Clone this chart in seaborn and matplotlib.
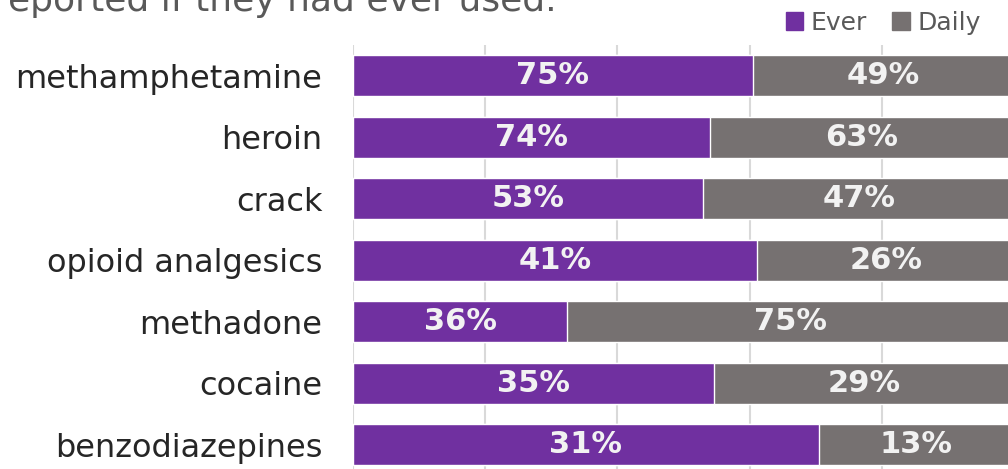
import matplotlib
matplotlib.use("Agg")
import matplotlib.pyplot as plt
import seaborn as sns
import numpy as np
import pandas as pd

# Substances and the share of respondents reporting ever / daily use (%)
substances = ["methamphetamine", "heroin", "crack", "opioid analgesics",
              "methadone", "cocaine", "benzodiazepines"]
ever_pct = [75, 74, 53, 41, 36, 35, 31]
daily_pct = [49, 63, 47, 26, 75, 29, 13]
series_names = ["Ever", "Daily"]

PURPLE = "#7030A0"
GRAY = "#767171"

sns.set_theme(style="white")
plt.rcParams["font.family"] = ["DejaVu Sans"]

ever = np.array(ever_pct, dtype=float)
daily = np.array(daily_pct, dtype=float)
total = ever + daily

df = pd.DataFrame({
    "substance": substances,
    "ever_share": ever / total,
    "full": total / total,
})

fig = plt.figure(figsize=(10.08, 4.69), dpi=100)
# 100% stacked axis; it runs slightly past the right and bottom edges of the canvas
ax = fig.add_axes([353 / 1008, (469 - 475.5) / 469, 661 / 1008, 430.5 / 469])

sns.barplot(data=df, x="full", y="substance", orient="h", color=GRAY,
            width=0.67, saturation=1, ax=ax, zorder=2)
sns.barplot(data=df, x="ever_share", y="substance", orient="h", color=PURPLE,
            width=0.67, saturation=1, ax=ax, zorder=3)

ax.set_xlim(0, 1)
ax.set_ylim(len(substances) - 0.5, -0.5)
ax.set_xticks(np.linspace(0, 1, 6))
ax.set_xticklabels([])
ax.xaxis.grid(True, color="#D9D9D9", linewidth=1.5, zorder=0)
ax.set_axisbelow(True)
ax.set_xlabel("")
ax.set_ylabel("")
for s in ax.spines.values():
    s.set_visible(False)
ax.tick_params(axis="y", length=0, pad=22, labelsize=23, labelcolor="#262626")
ax.tick_params(axis="x", length=0)

# Value labels centred in each segment
for i in range(len(substances)):
    share = ever[i] / total[i]
    ax.text(share / 2, i, f"{ever_pct[i]}%", ha="center", va="center",
            color="#F2F2F2", fontsize=22, fontweight="bold", zorder=5)
    ax.text(share + (1 - share) / 2, i, f"{daily_pct[i]}%", ha="center",
            va="center", color="#F2F2F2", fontsize=22, fontweight="bold", zorder=5)

# Legend
handles = [plt.Rectangle((0, 0), 1, 1, color=PURPLE),
           plt.Rectangle((0, 0), 1, 1, color=GRAY)]
fig.legend(handles, series_names, loc="upper right",
           bbox_to_anchor=(1003 / 1008, 1.025), ncol=2, frameon=False,
           fontsize=18, handlelength=0.7, handleheight=0.7,
           handletextpad=0.3, columnspacing=1.0, labelcolor="#595959")

# Caption line above the chart
fig.text(8 / 1008, 1 - 11 / 469, "eported if they had ever used.",
         ha="left", va="baseline", fontsize=26, color="#595959")

fig.savefig("out.png", dpi=100)
